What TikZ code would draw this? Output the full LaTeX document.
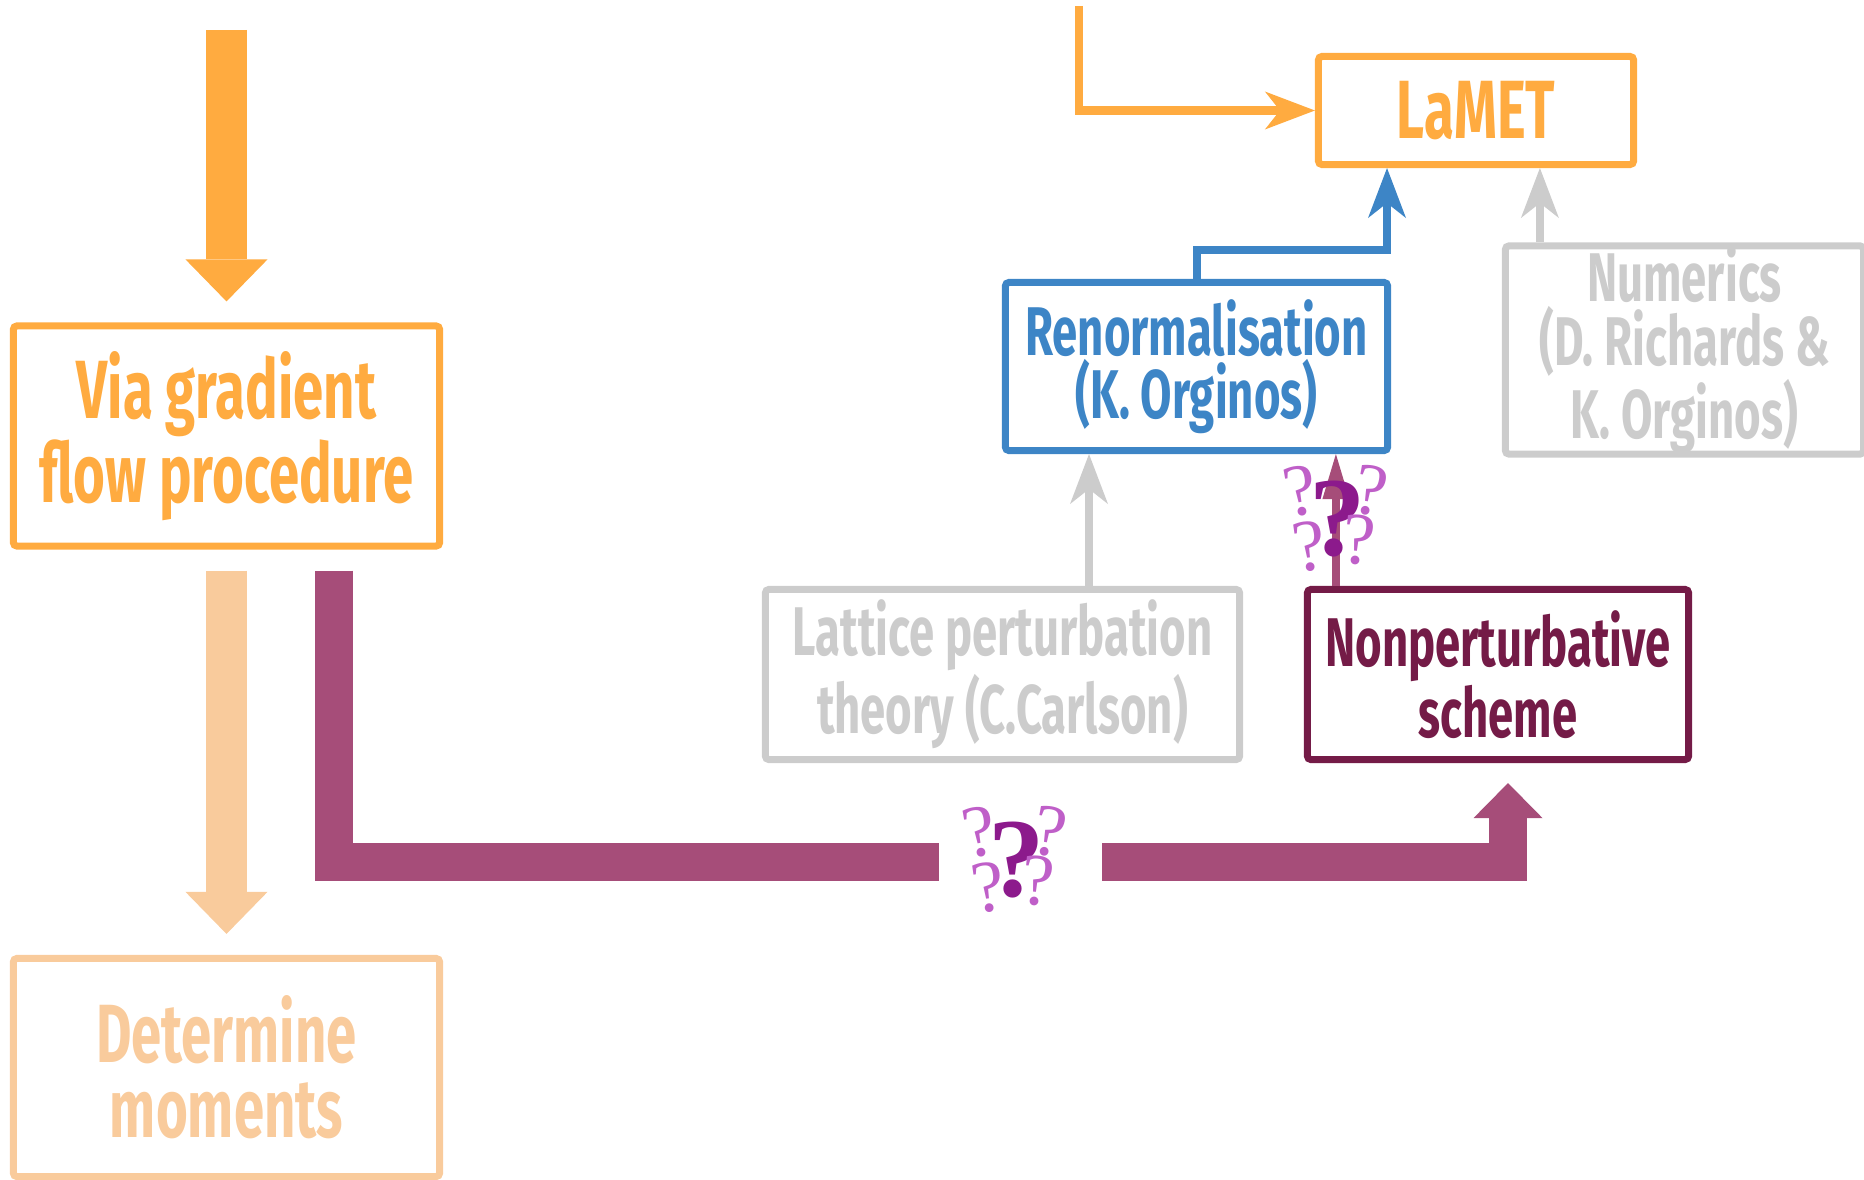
\documentclass[tikz,border=0pt]{standalone}
\usepackage{fontspec}
\usepackage{tikz}
\usetikzlibrary{arrows.meta,calc}
\newfontfamily\condfont[FakeStretch=0.66]{Fira Sans}
\newfontfamily\qfont{Liberation Serif}
\definecolor{Orange}{HTML}{FFAB40}
\definecolor{Peach}{HTML}{F9CB9C}
\definecolor{Plum}{HTML}{A64D79}
\definecolor{Wine}{HTML}{741B47}
\definecolor{Blue}{HTML}{3D85C6}
\definecolor{Grey}{HTML}{CCCCCC}
\definecolor{QDark}{HTML}{8C1A8C}
\definecolor{QLight}{HTML}{BF5FC8}

\begin{document}
\begin{tikzpicture}[x=0.01cm,y=-0.01cm,
  box/.style={draw=#1,text=#1,line width=0.07cm,rounded corners=1pt,align=center,inner sep=0pt},
  big/.style={font=\condfont\bfseries\fontsize{23.5}{21.3}\selectfont},
  mid/.style={font=\condfont\bfseries\fontsize{19.6}{18}\selectfont},
  thin/.style={line width=0.08cm,-{Stealth[length=0.5cm,width=0.38cm,inset=0.15cm,line width=0pt]}},
  fat/.style={line width=0.41cm,-{Triangle[length=0.42cm,width=0.82cm,line width=0pt]}},
  wide/.style={line width=0.38cm},
  qbig/.style={QDark,inner sep=0pt,font=\qfont\bfseries\fontsize{32}{32}\selectfont},
  qsmall/.style={QLight,inner sep=0pt,font=\qfont\fontsize{21}{21}\selectfont},
  qmarks/.pic={
    \node[qsmall,rotate=10] (-a) at (-38,-28) {?};
    \node[qsmall,rotate=-10] (-b) at (33,-28) {?};
    \node[qsmall,rotate=8] (-d) at (-29,28) {?};
    \node[qbig] (-c) at (0,0) {?};
    \node[qsmall,rotate=-5] (-e) at (21,21) {?};
  }
]
\useasboundingbox (0,0) rectangle (1864,1179);
\clip (0,0) rectangle (1864,1179);

% boxes
\node[box=Orange,big,minimum width=4.26cm,minimum height=2.2cm] (via) at (226.5,436) {Via gradient\\flow procedure};
\node[box=Peach,big,minimum width=4.26cm,minimum height=2.18cm] (det) at (226.5,1067.5) {Determine\\moments};
\node[box=Orange,big,minimum width=3.15cm,minimum height=1.08cm] (lamet) at (1476,110.5) {LaMET};
\node[box=Blue,mid,minimum width=3.82cm,minimum height=1.68cm] (renorm) at (1196.5,366.5) {Renormalisation\\(K. Orginos)};
\node[box=Grey,mid,minimum width=3.58cm,minimum height=2.07cm] (numerics) at (1684.5,350) {Numerics\\(D. Richards \&\\K. Orginos)};
\node[box=Grey,mid,minimum width=4.74cm,minimum height=1.7cm] (lattice) at (1002.5,674.5) {Lattice perturbation\\theory (C.Carlson)};
\node[box=Wine,mid,minimum width=3.81cm,minimum height=1.7cm] (nonpert) at (1498,674.5) {Nonperturbative\\scheme};

% thick arrows on the left
\coordinate (topin) at (226.5,30);
\draw[fat,Orange,shorten >=0.21cm] (topin) -- (via);
\draw[fat,Peach,shorten <=0.21cm,shorten >=0.21cm] (via) -- (det);

% broken route to the nonperturbative scheme
\coordinate (pfoot) at ($(via.south)+(107.5,21)$);
\coordinate (pleft) at (939,862);
\coordinate (pright) at (1102,862);
\coordinate (phead) at ($(nonpert.south)+(10,20)$);
\draw[wide,Plum] (pfoot) |- (pleft);
\draw[wide,Plum,-{Triangle[length=0.35cm,width=0.69cm,line width=0pt]}] (pright) -| (phead);

% thin arrows
\coordinate (lin) at (1079,6);
\draw[thin,Orange] (lin) |- (lamet.west);
\coordinate (bturn) at ($(lamet.south)+(-89,82)$);
\draw[thin,Blue] (renorm.north) |- (bturn) -- (bturn |- lamet.south);
\coordinate (numtop) at ($(numerics.north west)+(38,0)$);
\draw[thin,Grey] (numtop) -- (numtop |- lamet.south);
\coordinate (lattop) at ($(lattice.north)+(86.5,0)$);
\draw[thin,Grey] (lattop) -- (lattop |- renorm.south);
\coordinate (npttop) at ($(nonpert.north west)+(32,0)$);
\draw[line width=0.08cm,Plum,-{Triangle[length=0.45cm,width=0.27cm,line width=0pt]}] (npttop) -- (npttop |- renorm.south);

% question marks
\pic (qa) at (1017,860) {qmarks};
\pic (qb) at (1338,519) {qmarks};
\end{tikzpicture}
\end{document}
